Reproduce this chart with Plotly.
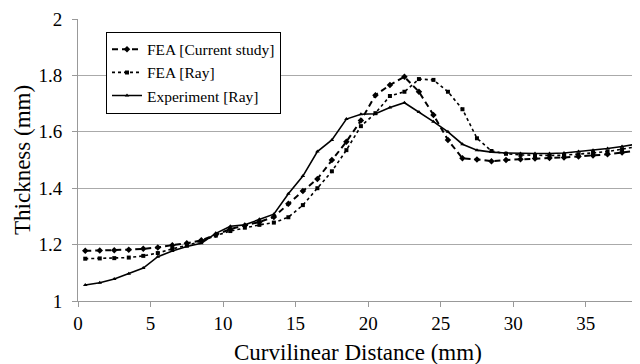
import plotly.graph_objects as go

distance = [0.5 + i for i in range(39)]

fea_current = [1.178, 1.179, 1.180, 1.182, 1.185, 1.190, 1.198, 1.205, 1.215, 1.235,
               1.255, 1.268, 1.280, 1.298, 1.345, 1.390, 1.433, 1.500, 1.565, 1.640,
               1.730, 1.766, 1.795, 1.742, 1.660, 1.571, 1.506, 1.502, 1.496, 1.500,
               1.503, 1.505, 1.507, 1.509, 1.512, 1.516, 1.520, 1.527, 1.533]

fea_ray = [1.150, 1.151, 1.152, 1.154, 1.160, 1.170, 1.185, 1.197, 1.212, 1.232,
           1.248, 1.260, 1.270, 1.278, 1.297, 1.340, 1.400, 1.460, 1.535, 1.620,
           1.666, 1.727, 1.742, 1.787, 1.784, 1.742, 1.680, 1.577, 1.532, 1.522,
           1.518, 1.516, 1.516, 1.517, 1.520, 1.525, 1.530, 1.538, 1.547]

experiment = [1.057, 1.065, 1.078, 1.097, 1.117, 1.157, 1.177, 1.193, 1.205, 1.240,
              1.265, 1.270, 1.290, 1.308, 1.380, 1.443, 1.530, 1.571, 1.645, 1.662,
              1.664, 1.686, 1.703, 1.670, 1.636, 1.600, 1.556, 1.535, 1.528, 1.525,
              1.523, 1.523, 1.523, 1.525, 1.530, 1.535, 1.541, 1.548, 1.556]

names = ["FEA [Current study]", "FEA [Ray]", "Experiment [Ray]"]
x_title = "Curvilinear Distance (mm)"
y_title = "Thickness (mm)"

font = "Liberation Serif, Times New Roman, serif"

fig = go.Figure()
fig.add_trace(go.Scatter(x=distance, y=fea_current, name=names[0], mode="lines+markers",
                         line=dict(color="black", width=2, dash="6px,4px"),
                         marker=dict(symbol="diamond", size=5, color="black")))
fig.add_trace(go.Scatter(x=distance, y=fea_ray, name=names[1], mode="lines+markers",
                         line=dict(color="black", width=1.6, dash="dot"),
                         marker=dict(symbol="square", size=4, color="black")))
fig.add_trace(go.Scatter(x=distance, y=experiment, name=names[2], mode="lines+markers",
                         line=dict(color="black", width=1.6),
                         marker=dict(symbol="triangle-up", size=4, color="black")))

fig.update_layout(
    width=632, height=356,
    margin=dict(l=70, r=2, t=11, b=63),
    paper_bgcolor="white", plot_bgcolor="white",
    font=dict(family=font, color="black"),
    showlegend=True,
    legend=dict(x=0.05, y=0.955, xanchor="left", yanchor="top",
                bgcolor="white", bordercolor="black", borderwidth=1,
                font=dict(size=15.5, family=font), tracegroupgap=0,
                itemwidth=30),
)
fig.update_xaxes(range=[0, 38.6], tickvals=[0, 5, 10, 15, 20, 25, 30, 35],
                 ticks="outside", ticklen=5, tickcolor="#999999",
                 showgrid=False, showline=True, linecolor="#999999", linewidth=1,
                 zeroline=False, tickfont=dict(size=19, family=font),
                 ticklabelstandoff=0)
fig.update_yaxes(range=[1, 2], tickvals=[1, 1.2, 1.4, 1.6, 1.8, 2],
                 ticktext=["1", "1.2", "1.4", "1.6", "1.8", "2"],
                 ticks="outside", ticklen=5, tickcolor="#999999",
                 showgrid=True, gridcolor="#aaaaaa", gridwidth=1,
                 showline=True, linecolor="#999999", linewidth=1, mirror=False,
                 zeroline=False, tickfont=dict(size=19, family=font),
                 ticklabelstandoff=6)
fig.add_annotation(text=x_title, xref="paper", yref="paper", x=0.5, y=0,
                   xanchor="center", yanchor="middle", yshift=-51, showarrow=False,
                   font=dict(size=23, family=font, color="black"))
fig.add_annotation(text=y_title, xref="paper", yref="paper", x=0, y=0.5,
                   xanchor="center", yanchor="middle", xshift=-56, textangle=-90,
                   showarrow=False, font=dict(size=23, family=font, color="black"))
fig.add_shape(type="line", xref="paper", yref="paper", x0=1, x1=1, y0=0, y1=1,
              line=dict(color="#dddddd", width=1))

fig.write_html("out.html")
